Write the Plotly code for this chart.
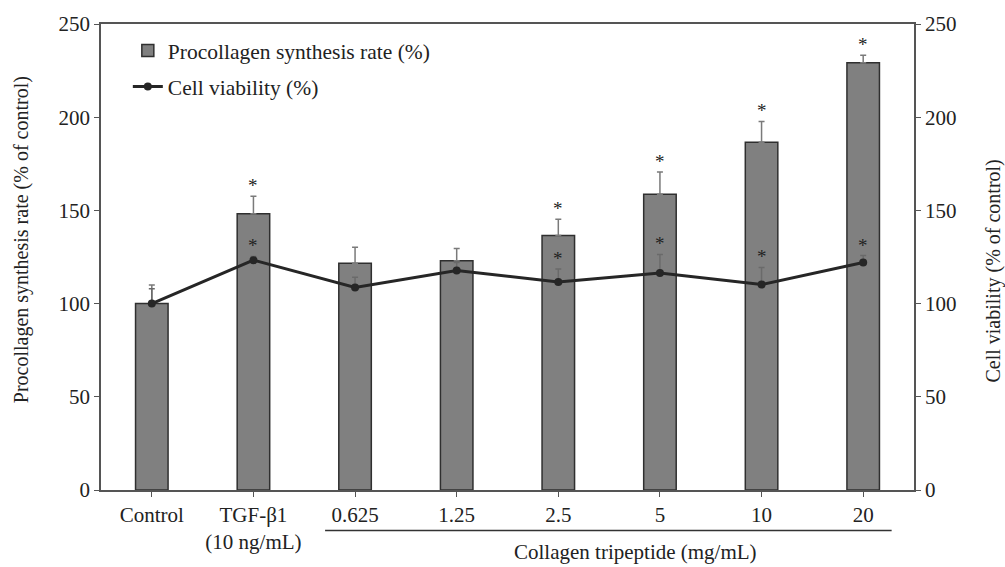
import plotly.graph_objects as go

categories = ["Control", "TGF-β1<br>(10 ng/mL)", "0.625", "1.25", "2.5", "5", "10", "20"]
procollagen = [100, 148.2, 121.7, 123, 136.5, 158.7, 186.6, 229.2]
procollagen_err = [10, 9.4, 8.5, 6.5, 8.7, 11.9, 11.1, 4.0]
procollagen_sig = [False, True, False, False, True, True, True, True]
viability = [100, 123.3, 108.6, 117.8, 111.6, 116.4, 110.2, 122.1]
viability_err = [8, 2, 5.6, 4.3, 7.0, 10.0, 9.2, 3.7]
viability_sig = [False, True, False, False, True, True, True, True]
y_ticks = [0, 50, 100, 150, 200, 250]

FONT = "Liberation Serif, Times New Roman, serif"
fs = 21
TXT = "#222222"

fig = go.Figure()
fig.add_trace(go.Bar(
    x=categories, y=procollagen, name="Procollagen synthesis rate (%)",
    marker=dict(color="#808080", line=dict(color="#2f2f2f", width=1.5)),
    error_y=dict(type="data", array=procollagen_err, arrayminus=[0]*len(procollagen_err),
                 symmetric=False, color="#7a7a7a", thickness=1.5, width=3),
    legendgroup="a",
))
fig.add_trace(go.Scatter(
    x=categories, y=viability, name="Cell viability (%)", yaxis="y2",
    mode="lines+markers",
    line=dict(color="#262626", width=3),
    marker=dict(color="#262626", size=8),
    error_y=dict(type="data", array=viability_err, arrayminus=[0]*len(viability_err),
                 symmetric=False, color="#6a6a6a", thickness=1.5, width=3),
    legendgroup="b",
))

annotations = []
for i, (v, e, s) in enumerate(zip(procollagen, procollagen_err, procollagen_sig)):
    if s:
        annotations.append(dict(x=i, y=v + e, xref="x", yref="y", text="*", showarrow=False,
                                yanchor="bottom", yshift=-2, font=dict(family=FONT, size=19, color=TXT)))
for i, (v, e, s) in enumerate(zip(viability, viability_err, viability_sig)):
    if s:
        annotations.append(dict(x=i, y=v + e, xref="x", yref="y2", text="*", showarrow=False,
                                yanchor="bottom", yshift=-2, font=dict(family=FONT, size=19, color=TXT)))
annotations.append(dict(x=0.657, y=-0.163, xref="paper", yref="paper", text="Collagen tripeptide (mg/mL)",
                        showarrow=False, xanchor="center", yanchor="bottom",
                        font=dict(family=FONT, size=21, color=TXT)))
# axis titles
annotations.append(dict(x=-0.0978, y=0.537, xref="paper", yref="paper",
                        text="Procollagen synthesis rate (% of control)", textangle=-90,
                        showarrow=False, xanchor="center", yanchor="middle",
                        font=dict(family=FONT, size=20, color=TXT)))
annotations.append(dict(x=1.0984, y=0.471, xref="paper", yref="paper",
                        text="Cell viability (% of control)", textangle=-90,
                        showarrow=False, xanchor="center", yanchor="middle",
                        font=dict(family=FONT, size=20, color=TXT)))

fig.update_layout(
    width=1005, height=567,
    margin=dict(l=101, r=91, t=21, b=77),
    paper_bgcolor="white", plot_bgcolor="white",
    font=dict(family=FONT, size=fs, color=TXT),
    bargap=0.68,
    showlegend=True,
    legend=dict(x=0.033, y=0.987, xanchor="left", yanchor="top", bgcolor="rgba(0,0,0,0)",
                font=dict(family=FONT, size=21.5, color=TXT), tracegroupgap=5),
    xaxis=dict(range=[-0.5, 7.5], showline=True, linecolor="#555", linewidth=1.5, mirror=True,
               ticks="outside", ticklen=5, tickcolor="#555", showgrid=False, tickangle=0),
    yaxis=dict(range=[0, 250], tickvals=y_ticks, showline=True, linecolor="#555", linewidth=1.5,
               ticks="outside", ticklen=5, tickcolor="#555", showgrid=False, zeroline=False),
    yaxis2=dict(range=[0, 250], tickvals=y_ticks, overlaying="y", side="right", showline=True,
                linecolor="#555", linewidth=1.5, ticks="outside", ticklen=5, tickcolor="#555",
                showgrid=False, zeroline=False),
    annotations=annotations,
    shapes=[dict(type="line", xref="x", yref="paper", x0=1.705, x1=7.28, y0=-0.087, y1=-0.087,
                 line=dict(color="#333", width=1.5))],
)

fig.write_html("out.html")
